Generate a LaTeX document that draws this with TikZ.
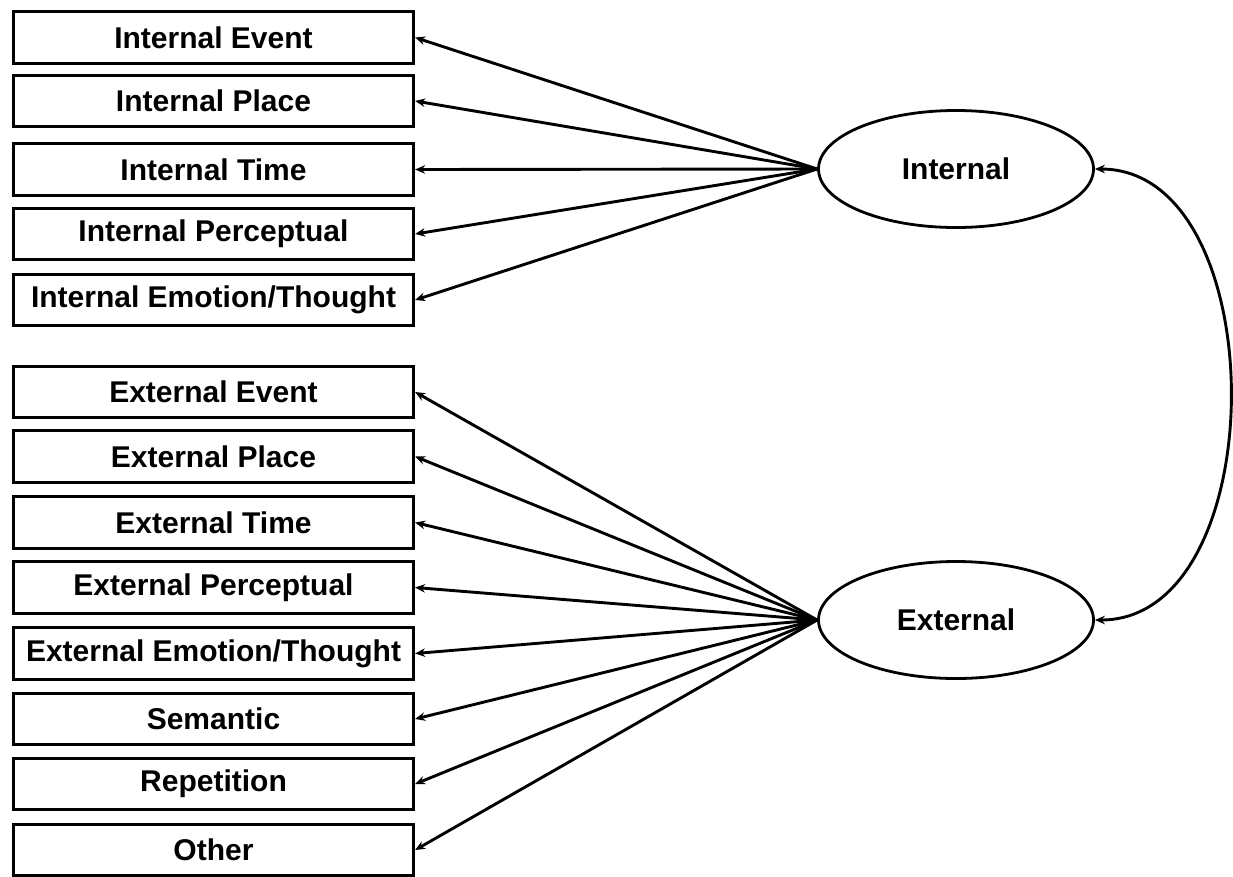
\documentclass[tikz,border=0pt]{standalone}
\usepackage{fontspec}
\setmainfont{Liberation Sans}
\usetikzlibrary{arrows.meta,shapes.geometric}
\begin{document}
\begin{tikzpicture}[x=1pt,y=-1pt,
  item/.style={draw, line width=3.2pt, minimum width=400pt, minimum height=51.5pt,
    inner sep=0pt, font=\fontsize{30}{35}\selectfont\bfseries},
  factor/.style={ellipse, draw, line width=2.8pt, minimum width=275pt,
    minimum height=117pt, inner sep=0pt, font=\fontsize{30}{35}\selectfont\bfseries},
  load/.style={line width=2.9pt, -{Stealth[length=10pt,width=8.5pt]}},
  corr/.style={line width=2.9pt, {Stealth[length=10pt,width=8.5pt]}-{Stealth[length=10pt,width=8.5pt]}},
]
\useasboundingbox (0,0) rectangle (1233,876);

\node[item] (ie) at (213.5,37.5) {Internal Event};
\node[item] (ip) at (213.5,101) {Internal Place};
\node[item] (it) at (213.5,169.5) {Internal Time};
\node[item] (iq) at (213.5,234) {Internal Perceptual};
\node[item] (io) at (213.5,300) {Internal Emotion/Thought};

\node[item] (ee) at (213.5,392) {External Event};
\node[item] (ep) at (213.5,456.5) {External Place};
\node[item] (et) at (213.5,522.5) {External Time};
\node[item] (eq) at (213.5,587.5) {External Perceptual};
\node[item] (eo) at (213.5,653.5) {External Emotion/Thought};
\node[item] (es) at (213.5,719) {Semantic};
\node[item] (er) at (213.5,784) {Repetition};
\node[item] (ex) at (213.5,850) {Other};

\node[factor] (int) at (956,169) {Internal};
\node[factor] (ext) at (956,620) {External};

\foreach \t in {ie,ip,it,iq,io}
  \draw[load] (int.west) -- (\t.east);
\foreach \t in {ee,ep,et,eq,eo,es,er,ex}
  \draw[load] (ext.west) -- (\t.east);

\draw[corr] (int.east) .. controls +(180,0) and +(180,0) .. (ext.east);
\end{tikzpicture}
\end{document}
